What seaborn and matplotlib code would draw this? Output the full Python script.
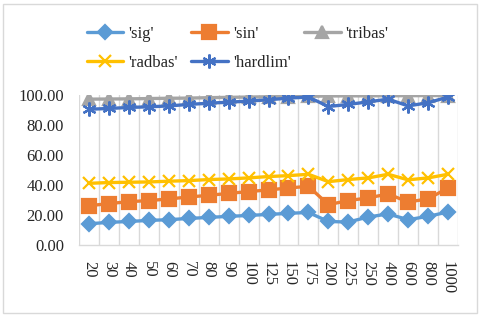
import numpy as np
import pandas as pd
import matplotlib
matplotlib.use("Agg")
import matplotlib.pyplot as plt
import seaborn as sns
from matplotlib.patches import Rectangle

# hidden neuron counts (x categories)
neurons = ["20", "30", "40", "50", "60", "70", "80", "90", "100", "125",
           "150", "175", "200", "225", "250", "400", "600", "800", "1000"]

sig = [14.4, 15.3, 15.9, 16.6, 17.1, 17.9, 18.6, 19.3, 19.9, 20.6,
       21.3, 21.9, 15.9, 15.5, 18.9, 20.9, 17.1, 19.3, 22.2]
sin = [26.4, 27.8, 29.1, 29.8, 30.9, 32.2, 33.3, 34.6, 35.8, 36.9,
       38.2, 39.3, 27.1, 29.8, 31.6, 34.2, 28.9, 30.9, 38.2]
tribas = [97.3, 97.4, 97.5, 97.7, 97.9, 98.0, 98.3, 98.5, 98.7, 98.9,
          99.0, 99.2, 99.4, 99.5, 99.5, 99.6, 99.6, 99.7, 99.7]
radbas = [41.3, 41.8, 42.0, 42.2, 42.7, 43.1, 43.8, 44.2, 44.9, 45.8,
          46.4, 47.3, 42.4, 43.8, 44.9, 47.3, 43.6, 44.9, 47.3]
hardlim = [90.6, 91.1, 91.8, 92.2, 92.8, 93.8, 94.6, 95.3, 96.0, 96.9,
           98.0, 98.7, 92.4, 93.8, 95.5, 97.3, 92.8, 94.9, 98.7]

series = {
    "'sig'": (sig, "#5B9BD5", "D", 7.5),
    "'sin'": (sin, "#ED7D31", "s", 10),
    "'tribas'": (tribas, "#A5A5A5", "^", 9),
    "'radbas'": (radbas, "#FFC000", "x", 9),
    "'hardlim'": (hardlim, "#4472C4", (6, 2, 0), 10),
}

sns.set_style("white")
plt.rcParams["font.family"] = ["Liberation Serif", "DejaVu Serif"]

fig = plt.figure(figsize=(4.8, 3.17), dpi=100)
ax = fig.add_axes([0.165, 0.226, 0.789, 0.474])

xpos = np.arange(len(neurons))
for name, (vals, color, marker, ms) in series.items():
    sns.lineplot(x=xpos, y=vals, ax=ax, color=color, linewidth=2.4,
                 marker=marker, markersize=ms, markeredgecolor=color,
                 markeredgewidth=1.6, label=name)

ax.set_xlim(-0.5, len(neurons) - 0.5)
ax.set_ylim(0, 100)
ax.set_yticks(np.arange(0, 101, 20))
ax.set_yticklabels([f"{v:.2f}" for v in np.arange(0, 101, 20)], fontsize=12)
ax.set_xticks(xpos)
ax.set_xticklabels(neurons, rotation=270, fontsize=12, ha="center", va="top")
ax.tick_params(axis="both", length=0, pad=11)

# vertical gridlines between categories
for b in np.arange(-0.5, len(neurons), 1.0):
    ax.axvline(b, color="#D9D9D9", linewidth=1, zorder=0)
for side in ["top", "right", "left"]:
    ax.spines[side].set_visible(False)
ax.spines["bottom"].set_color("#D9D9D9")
ax.spines["bottom"].set_linewidth(1)
ax.set_xlabel("")
ax.set_ylabel("")

h, l = ax.get_legend_handles_labels()
ax.get_legend().remove()
order = [0, 3, 1, 4, 2]
fig.legend([h[i] for i in order], [l[i] for i in order], ncol=3,
           loc="upper center", bbox_to_anchor=(0.495, 0.965), frameon=False,
           fontsize=12, handlelength=2.2, handletextpad=0.3,
           columnspacing=0.8, labelspacing=0.75)

fig.patches.append(Rectangle((0.006, 0.012), 0.988, 0.976, transform=fig.transFigure,
                             fill=False, edgecolor="#D9D9D9", linewidth=1))

fig.savefig("out.png", dpi=100)
